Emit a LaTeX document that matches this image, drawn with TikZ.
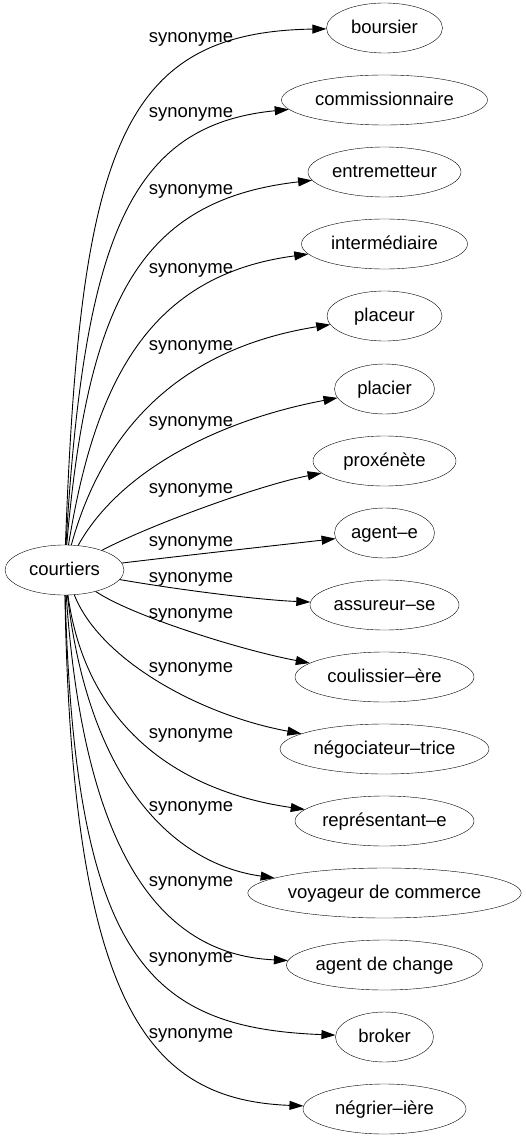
\documentclass[tikz,border=0pt]{standalone}
\usepackage{fontspec}
\setmainfont{Liberation Sans}
\usetikzlibrary{arrows.meta,shapes.geometric}

\begin{document}
\begin{tikzpicture}[x=1pt,y=-1pt,
  word/.style={draw,ellipse,inner sep=0pt,minimum height=50pt,
    text height=15pt,text depth=4pt,font=\fontsize{18.5}{22}\selectfont},
  syn/.style={font=\fontsize{18.5}{22}\selectfont},
  rel/.style={-{Triangle[length=14pt,width=9pt]},line width=0.9pt}]

\useasboundingbox (0,0) rectangle (525,1139);

% Source word
\node[word,minimum width=119pt] (courtiers) at (64.5,570) {courtiers};

% Synonyms, one per row
\node[word,minimum width=116pt] (boursier) at (384.5,28) {boursier};
\node[word,minimum width=206pt] (commiss) at (384.5,100) {commissionnaire};
\node[word,minimum width=153pt] (entrem) at (384.5,172) {entremetteur};
\node[word,minimum width=166pt] (interm) at (384.5,244) {intermédiaire};
\node[word,minimum width=115pt] (placeur) at (384.5,316) {placeur};
\node[word,minimum width=100pt] (placier) at (384.5,389) {placier};
\node[word,minimum width=143pt] (proxen) at (384.5,461) {proxénète};
\node[word,minimum width=100pt] (agent) at (384.5,533) {agent–e};
\node[word,minimum width=149pt] (assur) at (384.5,605) {assureur–se};
\node[word,minimum width=179pt] (coulis) at (384.5,677) {coulissier–ère};
\node[word,minimum width=209pt] (negoc) at (384.5,749) {négociateur–trice};
\node[word,minimum width=179pt] (repres) at (384.5,821) {représentant–e};
\node[word,minimum width=268pt] (voyag) at (384.5,893) {voyageur de commerce};
\node[word,minimum width=196pt] (change) at (384.5,965) {agent de change};
\node[word,minimum width=98pt] (broker) at (384.5,1037) {broker};
\node[word,minimum width=163pt] (negrier) at (384.5,1109) {négrier–ière};

% Edges, upper fan
\draw[rel] (courtiers) .. controls (80,150) and (120,32) .. (boursier);
\draw[rel] (courtiers) .. controls (84,237) and (130,125) .. (commiss);
\draw[rel] (courtiers) .. controls (88,300) and (140,200) .. (entrem);
\draw[rel] (courtiers) .. controls (95,380) and (150,275) .. (interm);
\draw[rel] (courtiers) .. controls (100,440) and (170,350) .. (placeur);
\draw[rel] (courtiers) .. controls (120,470) and (220,420) .. (placier);
\draw[rel] (courtiers) .. controls (150,525) and (260,485) .. (proxen);
\draw[rel] (courtiers) .. controls (180,556) and (280,545) .. (agent);

% Edges, lower fan
\draw[rel] (courtiers) .. controls (180,590) and (260,600) .. (assur);
\draw[rel] (courtiers) .. controls (130,615) and (240,650) .. (coulis);
\draw[rel] (courtiers) .. controls (100,660) and (200,715) .. (negoc);
\draw[rel] (courtiers) .. controls (85,720) and (170,790) .. (repres);
\draw[rel] (courtiers) .. controls (90,790) and (180,865) .. (voyag);
\draw[rel] (courtiers) .. controls (85,870) and (170,955) .. (change);
\draw[rel] (courtiers) .. controls (75,960) and (150,1028) .. (broker);
\draw[rel] (courtiers) .. controls (72,1010) and (150,1100) .. (negrier);

% Edge labels
\node[syn] (l1) at (191,39) {synonyme};
\node[syn] (l2) at (191,114) {synonyme};
\node[syn] (l3) at (191,191) {synonyme};
\node[syn] (l4) at (191,270) {synonyme};
\node[syn] (l5) at (191,347) {synonyme};
\node[syn] (l6) at (191,423) {synonyme};
\node[syn] (l7) at (191,490) {synonyme};
\node[syn] (l8) at (191,543) {synonyme};
\node[syn] (l9) at (191,579) {synonyme};
\node[syn] (l10) at (191,615) {synonyme};
\node[syn] (l11) at (191,669) {synonyme};
\node[syn] (l12) at (191,735) {synonyme};
\node[syn] (l13) at (191,808) {synonyme};
\node[syn] (l14) at (191,883) {synonyme};
\node[syn] (l15) at (191,959) {synonyme};
\node[syn] (l16) at (191,1035) {synonyme};

\end{tikzpicture}
\end{document}
